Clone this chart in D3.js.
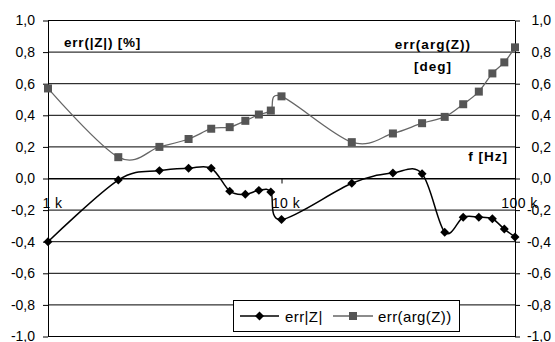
<!DOCTYPE html>
<html>
<head>
<meta charset="utf-8">
<script src="https://cdn.jsdelivr.net/npm/d3@7"></script>
<style>
  html, body { margin: 0; padding: 0; background: #fff; }
  svg { display: block; font-family: "Liberation Sans", Arial, sans-serif; }
</style>
</head>
<body>
<svg id="chart" width="555" height="342"></svg>
<script>
// ---- data ----
const freqs = [1000, 2000, 3000, 4000, 5000, 6000, 7000, 8000, 9000, 10000,
               20000, 30000, 40000, 50000, 60000, 70000, 80000, 90000, 100000];
const errZ = [-0.40, -0.01, 0.05, 0.065, 0.065, -0.08, -0.10, -0.075, -0.085, -0.26,
              -0.03, 0.035, 0.03, -0.34, -0.245, -0.245, -0.255, -0.32, -0.37];
const errArg = [0.57, 0.135, 0.20, 0.25, 0.315, 0.325, 0.365, 0.405, 0.43, 0.52,
                0.23, 0.285, 0.35, 0.39, 0.47, 0.55, 0.665, 0.735, 0.83];
const seriesNames = ["err|Z|", "err(arg(Z))"];
const yTickValues = [-1, -0.8, -0.6, -0.4, -0.2, 0, 0.2, 0.4, 0.6, 0.8, 1];
const yTickLabels = ["-1,0", "-0,8", "-0,6", "-0,4", "-0,2", "0,0", "0,2", "0,4", "0,6", "0,8", "1,0"];
const xTickValues = [1000, 10000, 100000];
const xTickLabels = ["1 k", "10 k", "100 k"];
const leftTitle = "err(|Z|) [%]";
const rightTitle = ["err(arg(Z))", "[deg]"];
const xTitle = "f [Hz]";

// ---- layout ----
const svg = d3.select("#chart");
const L = 48, R = 515, T = 20.5, B = 336.5;
const x = d3.scaleLog().domain([1000, 100000]).range([L, R]);
const y = d3.scaleLinear().domain([-1, 1]).range([B, T]);

// gridlines
svg.append("g").selectAll("line").data(yTickValues).join("line")
  .attr("x1", L).attr("x2", R)
  .attr("y1", d => y(d)).attr("y2", d => y(d))
  .attr("stroke", "#000").attr("stroke-width", 1);

// left axis
const yl = svg.append("g").attr("transform", `translate(${L},0)`)
  .call(d3.axisLeft(y).tickValues(yTickValues).tickFormat((d, i) => yTickLabels[i]).tickSize(5).tickSizeOuter(0));
yl.select(".domain").attr("stroke", "#000");
yl.selectAll("text").attr("font-size", 14).attr("fill", "#000").attr("x", -13).attr("font-family", "Liberation Sans, Arial");

// right axis
const yr = svg.append("g").attr("transform", `translate(${R},0)`)
  .call(d3.axisRight(y).tickValues(yTickValues).tickFormat((d, i) => yTickLabels[i]).tickSize(5).tickSizeOuter(0));
yr.select(".domain").attr("stroke", "#000");
yr.selectAll("text").attr("font-size", 14).attr("fill", "#000")
  .attr("text-anchor", "end").attr("x", 36).attr("font-family", "Liberation Sans, Arial");

// x axis at 0
const xa = svg.append("g").attr("transform", `translate(0,${y(0)})`)
  .call(d3.axisBottom(x).tickValues(xTickValues).tickFormat((d, i) => xTickLabels[i]).tickSize(5).tickSizeOuter(0));
xa.select(".domain").attr("stroke", "#000");
xa.selectAll("text").attr("font-size", 14).attr("fill", "#000")
  .attr("y", 29).attr("dy", 0).attr("dx", 4).attr("letter-spacing", 0.5).attr("font-family", "Liberation Sans, Arial");

// titles
svg.append("text").attr("x", 64).attr("y", 47).attr("font-size", 13.5).attr("font-weight", "bold")
  .attr("letter-spacing", 0.8).text(leftTitle);
svg.append("text").attr("x", 433).attr("y", 49).attr("font-size", 13.5).attr("font-weight", "bold")
  .attr("letter-spacing", 1).attr("text-anchor", "middle").text(rightTitle[0]);
svg.append("text").attr("x", 433).attr("y", 71).attr("font-size", 13.5).attr("font-weight", "bold")
  .attr("letter-spacing", 1).attr("text-anchor", "middle").text(rightTitle[1]);
svg.append("text").attr("x", 508).attr("y", 161).attr("font-size", 13.5).attr("font-weight", "bold")
  .attr("letter-spacing", 1).attr("text-anchor", "end").text(xTitle);

// series
const curve = d3.curveCardinal.tension(0);
const lineZ = d3.line().x((d, i) => x(freqs[i])).y(d => y(d)).curve(curve);
const argColor = "#555555";

svg.append("path").datum(errArg).attr("d", lineZ)
  .attr("fill", "none").attr("stroke", "#666").attr("stroke-width", 1.3);
svg.append("g").selectAll("rect").data(errArg).join("rect")
  .attr("x", (d, i) => x(freqs[i]) - 4).attr("y", d => y(d) - 4)
  .attr("width", 8).attr("height", 8).attr("fill", argColor);

svg.append("path").datum(errZ).attr("d", lineZ)
  .attr("fill", "none").attr("stroke", "#000").attr("stroke-width", 1.5);
svg.append("g").selectAll("path").data(errZ).join("path")
  .attr("d", d3.symbol().type(d3.symbolSquare).size(40))
  .attr("transform", (d, i) => `translate(${x(freqs[i])},${y(d)}) rotate(45)`)
  .attr("fill", "#000");

// legend
const lg = svg.append("g");
lg.append("rect").attr("x", 233.5).attr("y", 300.5).attr("width", 226).attr("height", 31)
  .attr("fill", "#fff").attr("stroke", "#000").attr("stroke-width", 1);
const ly = 316;
lg.append("line").attr("x1", 240).attr("x2", 279).attr("y1", ly).attr("y2", ly).attr("stroke", "#000").attr("stroke-width", 1.5);
lg.append("path").attr("d", d3.symbol().type(d3.symbolSquare).size(40)).attr("transform", `translate(259.5,${ly}) rotate(45)`).attr("fill", "#000");
lg.append("text").attr("x", 285).attr("y", ly + 5.5).attr("font-size", 15).attr("letter-spacing", 0.4).text(seriesNames[0]);
lg.append("line").attr("x1", 333).attr("x2", 373).attr("y1", ly).attr("y2", ly).attr("stroke", "#666").attr("stroke-width", 1.3);
lg.append("rect").attr("x", 349).attr("y", ly - 4).attr("width", 8).attr("height", 8).attr("fill", argColor);
lg.append("text").attr("x", 378).attr("y", ly + 5.5).attr("font-size", 15).attr("letter-spacing", 0.4).text(seriesNames[1]);
</script>
</body>
</html>
